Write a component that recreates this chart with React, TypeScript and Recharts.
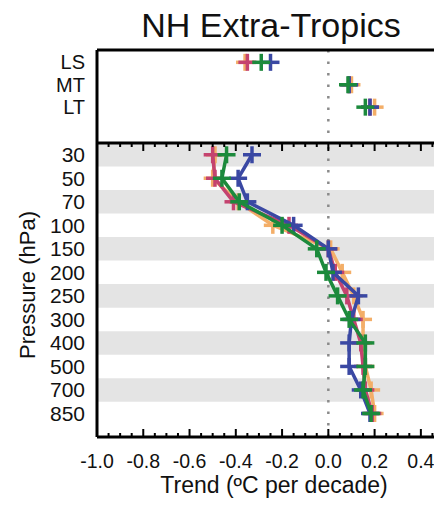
import React from 'react';
import {
  ScatterChart, Scatter, XAxis, YAxis, ReferenceArea, ReferenceLine,
} from 'recharts';

// ---- Data ----
const pressureLevels = ['30', '50', '70', '100', '150', '200', '250', '300', '400', '500', '700', '850'];
const layerLabels = ['LS', 'MT', 'LT'];

const blueProfile = [-0.33, -0.39, -0.35, -0.15, 0.0, 0.02, 0.13, 0.10, 0.09, 0.09, 0.14, 0.18];
const greenProfile = [-0.44, -0.46, -0.385, -0.20, -0.05, -0.01, 0.04, 0.09, 0.16, 0.16, 0.15, 0.185];
const orangeProfile = [-0.49, -0.50, -0.39, -0.24, 0.01, 0.06, 0.11, 0.15, 0.15, 0.16, 0.185, 0.20];
const redProfile = [-0.50, -0.49, -0.41, -0.17, 0.0, 0.03, 0.08, 0.11, 0.14, 0.15, 0.16, 0.19];

const blueLayers = [-0.25, 0.09, 0.18];
const greenLayers = [-0.29, 0.085, 0.16];
const orangeLayers = [-0.36, 0.10, 0.20];
const redLayers = [-0.35, 0.09, 0.18];

const majorTicks = [-1.0, -0.8, -0.6, -0.4, -0.2, 0.0, 0.2, 0.4];
const allTicks = [
  -1.0, -0.95, -0.9, -0.85, -0.8, -0.75, -0.7, -0.65, -0.6, -0.55, -0.5, -0.45, -0.4, -0.35,
  -0.3, -0.25, -0.2, -0.15, -0.1, -0.05, 0.0, 0.05, 0.1, 0.15, 0.2, 0.25, 0.3, 0.35, 0.4, 0.45,
];
const grayLevelIdx = [0, 2, 4, 6, 8, 10];

// ---- Styling ----
const FONT = '"Liberation Sans", Arial, sans-serif';
const COLORS = { orange: '#f3ae68', red: '#c4436f', blue: '#3a48a3', green: '#1c8a3c' };
const W = 480;
const X_DOMAIN: [number, number] = [-1.0, 0.5];

const toPoints = (vals: number[]) => vals.map((v, i) => ({ v, i }));

const series = [
  { key: 'orange', color: COLORS.orange, prof: orangeProfile, lay: orangeLayers },
  { key: 'red', color: COLORS.red, prof: redProfile, lay: redLayers },
  { key: 'blue', color: COLORS.blue, prof: blueProfile, lay: blueLayers },
  { key: 'green', color: COLORS.green, prof: greenProfile, lay: greenLayers },
];

const isMajor = (v: number) => majorTicks.some((m) => Math.abs(m - v) < 1e-6);

const makePlus = (color: string) => (props: any) => {
  const { cx, cy } = props;
  if (cx == null || cy == null) return <g />;
  return (
    <g>
      <line x1={cx - 9} x2={cx + 9} y1={cy} y2={cy} stroke={color} strokeWidth={3.5} />
      <line x1={cx} x2={cx} y1={cy - 8.5} y2={cy + 8.5} stroke={color} strokeWidth={3.5} />
    </g>
  );
};

const BottomTick = (props: any) => {
  const { x, y, payload } = props;
  const v = payload.value;
  const major = isMajor(v);
  return (
    <g>
      <line x1={x} x2={x} y1={y} y2={y - (major ? 8 : 4)} stroke="#000" strokeWidth={2} />
      {major && (
        <text x={x} y={y + 31} textAnchor="middle" fontSize={19.5} fontFamily={FONT} fill="#111">
          {v.toFixed(1)}
        </text>
      )}
    </g>
  );
};

const TopTick = (props: any) => {
  const { x, y, payload } = props;
  const major = isMajor(payload.value);
  return <line x1={x} x2={x} y1={y} y2={y + (major ? 8 : 4)} stroke="#000" strokeWidth={2} />;
};

const axisLineStyle = { stroke: '#000', strokeWidth: 3 };

export default function App() {
  return (
    <div
      style={{
        position: 'absolute', left: 0, top: 0, width: 434, height: 505,
        overflow: 'hidden', background: '#fff', fontFamily: FONT,
      }}
    >
      {/* Upper panel: layer trends */}
      <div style={{ position: 'absolute', left: 0, top: 0 }}>
        <ScatterChart width={W} height={150} margin={{ top: 40, right: 36, bottom: 7, left: 37 }}>
          <XAxis
            xAxisId="t" type="number" dataKey="v" orientation="top" domain={X_DOMAIN}
            allowDataOverflow height={10} tick={false} tickLine={false} axisLine={axisLineStyle}
          />
          <YAxis
            type="number" dataKey="i" reversed domain={[-0.55, 3.6]} ticks={[0, 1, 2]} interval={0}
            allowDataOverflow width={60} tickSize={0} tickMargin={12} tickLine={false}
            axisLine={axisLineStyle}
            tickFormatter={(v: number) => layerLabels[v] ?? ''}
            tick={{ fontSize: 20, fill: '#111', fontFamily: FONT }}
          />
          <ReferenceLine xAxisId="t" x={0} stroke="#8a8a8a" strokeWidth={2.5} strokeDasharray="2.5 9" />
          {series.map((s) => (
            <Scatter
              key={s.key} xAxisId="t" data={toPoints(s.lay)} fill={s.color}
              shape={makePlus(s.color)} isAnimationActive={false}
            />
          ))}
        </ScatterChart>
      </div>

      {/* Lower panel: pressure profile */}
      <div style={{ position: 'absolute', left: 0, top: 0 }}>
        <ScatterChart width={W} height={505} margin={{ top: 133, right: 36, bottom: 38, left: 37 }}>
          {grayLevelIdx.map((i) => (
            <ReferenceArea
              key={i} xAxisId="b" y1={i - 0.5} y2={i + 0.5} fill="#e4e4e4" fillOpacity={1}
              stroke="none" ifOverflow="hidden"
            />
          ))}
          <XAxis
            xAxisId="b" type="number" dataKey="v" orientation="bottom" domain={X_DOMAIN}
            allowDataOverflow ticks={allTicks} interval={0} height={30} tickSize={0} tickMargin={0}
            tickLine={false} axisLine={axisLineStyle} tick={<BottomTick />}
          />
          <XAxis
            xAxisId="top" type="number" dataKey="v" orientation="top" domain={X_DOMAIN}
            allowDataOverflow ticks={allTicks} interval={0} height={10} tickSize={0} tickMargin={0}
            tickLine={false} axisLine={axisLineStyle} tick={<TopTick />}
          />
          <YAxis
            type="number" dataKey="i" reversed domain={[-0.5, 12]}
            ticks={pressureLevels.map((_, i) => i)} interval={0}
            allowDataOverflow width={60} tickSize={0} tickMargin={12} tickLine={false}
            axisLine={axisLineStyle}
            tickFormatter={(v: number) => pressureLevels[v] ?? ''}
            tick={{ fontSize: 21, fill: '#111', fontFamily: FONT }}
          />
          <ReferenceLine xAxisId="b" x={0} stroke="#8a8a8a" strokeWidth={2.5} strokeDasharray="2.5 9" />
          {series.map((s) => (
            <Scatter
              key={s.key} xAxisId="b" data={toPoints(s.prof)} fill={s.color}
              line={{ stroke: s.color, strokeWidth: 3.5 }} lineJointType="linear"
              shape={makePlus(s.color)} isAnimationActive={false}
            />
          ))}
        </ScatterChart>
      </div>

      {/* Titles */}
      <svg
        width={434} height={505}
        style={{ position: 'absolute', left: 0, top: 0, pointerEvents: 'none' }}
      >
        <text x={271} y={37} textAnchor="middle" fontSize={34} fontFamily={FONT} fill="#111">
          NH Extra-Tropics
        </text>
        <text x={274} y={493} textAnchor="middle" fontSize={23} fontFamily={FONT} fill="#111">
          Trend (ºC per decade)
        </text>
        <text
          x={35} y={285} textAnchor="middle" fontSize={22} fontFamily={FONT} fill="#111"
          transform="rotate(-90 35 285)"
        >
          Pressure (hPa)
        </text>
      </svg>
    </div>
  );
}
